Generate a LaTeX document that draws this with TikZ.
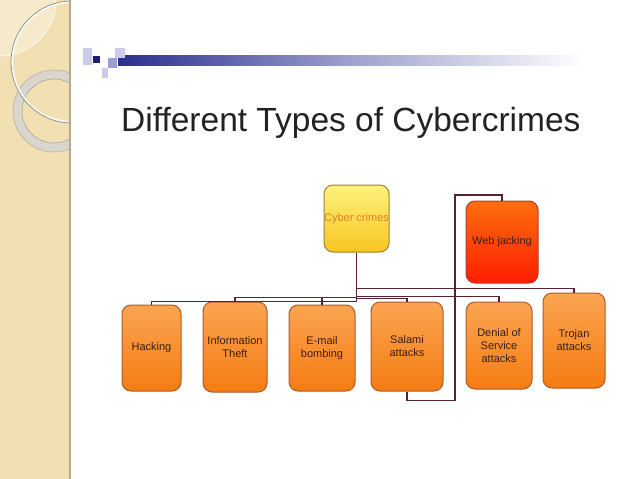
\documentclass[tikz,border=0pt]{standalone}
\usepackage{fontspec}
\setmainfont{Liberation Sans}
\definecolor{panelbeige}{HTML}{F2DFB2}
\definecolor{panelline}{HTML}{B8AA8C}
\definecolor{ringgray}{HTML}{DAD6CE}
\definecolor{circgray}{HTML}{9A9080}
\definecolor{navy}{HTML}{2A2E8E}
\definecolor{sqlight}{HTML}{CACBE8}
\definecolor{sqmid}{HTML}{9C9ED2}
\definecolor{sqdark}{HTML}{1C1F78}
\definecolor{titlegray}{HTML}{222222}
\definecolor{otop}{HTML}{FBA452}
\definecolor{obot}{HTML}{F57C12}
\definecolor{oedge}{HTML}{B05A28}
\definecolor{rtop}{HTML}{FF6E10}
\definecolor{rbot}{HTML}{FF1E00}
\definecolor{redge}{HTML}{B03C28}
\definecolor{ytop}{HTML}{FFF27E}
\definecolor{ybot}{HTML}{F7C520}
\definecolor{yedge}{HTML}{A08234}
\definecolor{ytext}{HTML}{E07E24}
\definecolor{btext}{HTML}{3A1E12}
\definecolor{wire}{HTML}{5A2230}
\tikzset{
  cbox/.style={draw, line width=1pt, rounded corners=9pt, inner sep=0pt,
    align=center, font=\fontsize{11}{13}\selectfont, text=btext},
  obox/.style={cbox, draw=oedge, top color=otop, bottom color=obot},
  rbox/.style={cbox, draw=redge, top color=rtop, bottom color=rbot},
  ybox/.style={cbox, draw=yedge, top color=ytop, bottom color=ybot, text=ytext},
  wireline/.style={draw=wire, line width=1.8pt},
}
\begin{document}
\begin{tikzpicture}[x=1pt,y=-1pt]
\useasboundingbox (0,0) rectangle (638,479);
\fill[white] (0,0) rectangle (638,479);
% left panel
\fill[panelbeige] (0,0) rectangle (69,479);
\begin{scope}
  \clip (0,0) rectangle (69,479);
  \fill[white, fill opacity=0.35] (0,0) circle (56);
  \draw[white!85!panelbeige, line width=0.8pt] (0,0) circle (56);
  \draw[ringgray, line width=9pt] (54,111) circle (36.5);
  \draw[gray!60, line width=0.6pt] (54,111) circle (41);
  \draw[gray!70, line width=0.6pt] (54,111) circle (32);
  \draw[white, line width=2pt] (72,62) circle (60);
  \draw[circgray, line width=0.8pt] (72,62) circle (61);
\end{scope}
\fill[panelline] (69,0) rectangle (71,479);
% header bar and squares
\shade[left color=navy, right color=white, middle color=navy!45!white] (118,55) rectangle (585,65);
\fill[sqlight] (83,48) rectangle (92,65);
\fill[sqlight] (115,48) rectangle (125,58);
\fill[sqmid] (108,58) rectangle (117,68);
\fill[sqlight] (102,68) rectangle (108,78);
\fill[sqdark] (93,56) rectangle (100,63);
% title
\node[anchor=base west, inner sep=0pt, text=titlegray, font=\fontsize{33.5}{36}\selectfont] (title) at (121,131) {Different Types of Cybercrimes};
% nodes
\node[ybox, minimum width=65pt, minimum height=67pt] (cyber) at (356.5,218.5) {Cyber crimes};
\node[rbox, minimum width=72pt, minimum height=82pt] (web) at (502,242) {Web jacking};
\node[obox, minimum width=59pt, minimum height=86pt] (hack) at (151.5,348) {Hacking};
\node[obox, minimum width=64pt, minimum height=90pt] (info) at (235,347) {Information\\Theft};
\node[obox, minimum width=66pt, minimum height=86pt] (email) at (322,348) {E-mail\\bombing};
\node[obox, minimum width=72pt, minimum height=89pt] (sal) at (407,346.5) {Salami\\attacks};
\node[obox, minimum width=66pt, minimum height=87pt] (dos) at (499,345.5) {Denial of\\Service\\attacks};
\node[obox, minimum width=62pt, minimum height=95pt] (troj) at (574,340.5) {Trojan\\attacks};
\coordinate (wj) at (455,195);
% connectors
\draw[wireline] (cyber.south) -- ++(0,36) -| (troj.north);
\draw[wireline] (cyber.south) -- ++(0,44) -| (dos.north);
\draw[wireline] (cyber.south) -- ++(0,46) -| (sal.north);
\draw[wireline] (cyber.south) -- ++(0,45) -| (info.north);
\draw[wireline] (cyber.south) -- ++(0,45) -| (email.north);
\draw[wireline] (cyber.south) -- ++(0,49) -| (hack.north);
\draw[wireline] (sal.south) -- ++(0,9) -| (wj) -| (web.north);
\end{tikzpicture}
\end{document}
